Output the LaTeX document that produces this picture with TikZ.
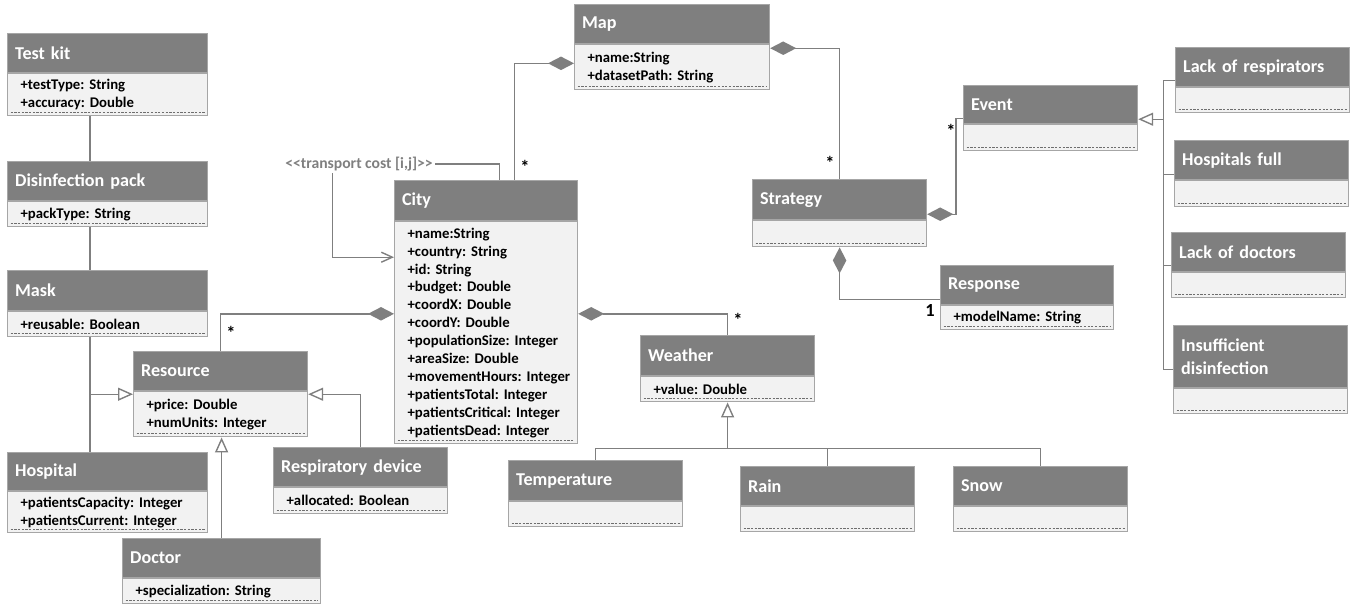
\documentclass[tikz,border=0pt]{standalone}
\usepackage{fontspec}
\setmainfont{Carlito}
\newfontfamily\plainfont{Carlito}
\frenchspacing
\usetikzlibrary{arrows.meta}
\definecolor{hdrcol}{RGB}{127,127,127}
\definecolor{bodycol}{RGB}{242,242,242}
\definecolor{boxcol}{RGB}{166,166,166}
\definecolor{lncol}{RGB}{127,127,127}
\definecolor{dashcol}{RGB}{110,110,110}
\begin{document}
\begin{tikzpicture}[x=0.02cm,y=-0.02cm,
  hdr/.style={draw=boxcol,line width=0.7pt,fill=hdrcol,text=white,anchor=north west,
    inner xsep=0.15cm,inner ysep=0pt,minimum height=0.78cm,align=left,text width=#1,
    font=\fontsize{10.3}{12.8}\selectfont\bfseries},
  hdr/.default=3.18cm,
  attr/.style={draw=boxcol,line width=0.7pt,fill=bodycol,anchor=north west,
    inner xsep=0.26cm,inner ysep=0.1cm,minimum height=0.5cm,align=left,text width=#1,
    font=\fontsize{8.4}{10.2}\selectfont\bfseries,
    path picture={\draw[dashcol,line width=0.5pt,dash pattern=on 1.3pt off 0.8pt]
      ([xshift=0.06cm,yshift=0.06cm]path picture bounding box.south west) --
      ([xshift=-0.06cm,yshift=0.06cm]path picture bounding box.south east);}},
  attr/.default=2.96cm,
  conn/.style={draw=lncol,line width=0.8pt},
  gen/.style={conn,-{Triangle[open,length=0.3cm,width=0.26cm]}},
  comp/.style={conn,{Diamond[length=0.52cm,width=0.27cm]}-},
  mult/.style={inner sep=1pt,font=\fontsize{10.5}{11}\selectfont\bfseries}]
\useasboundingbox (0,0) rectangle (1362,604);

% resources
\node (testkit) at (7,33) [hdr=3.7cm] {Test kit};
\node (testkit-attr) at (testkit.south west) [attr=3.48cm,minimum height=0.84cm] {+testType: String\\+accuracy: Double};
\node (disinf) at (7,161) [hdr=3.7cm] {Disinfection pack};
\node (disinf-attr) at (disinf.south west) [attr=3.48cm] {+packType: String};
\node (mask) at (7,270) [hdr=3.7cm,minimum height=0.8cm] {Mask};
\node (mask-attr) at (mask.south west) [attr=3.48cm] {+reusable: Boolean};
\node (hospital) at (7,452) [hdr=3.7cm,minimum height=0.76cm] {Hospital};
\node (hospital-attr) at (hospital.south west) [attr=3.48cm,minimum height=0.76cm] {+patientsCapacity: Integer\\+patientsCurrent: Integer};
\node (resource) at (133,351) [hdr] {Resource};
\node (resource-attr) at (resource.south west) [attr,minimum height=0.9cm] {+price: Double\\+numUnits: Integer};
\node (respdev) at (273,447) [hdr] {Respiratory device};
\node (respdev-attr) at (respdev.south west) [attr,minimum height=0.52cm] {+allocated: Boolean};
\node (doctor) at (122,538) [hdr=3.66cm] {Doctor};
\node (doctor-attr) at (doctor.south west) [attr=3.44cm] {+specialization: String};

% city, map, strategy
\node (city) at (394,180) [hdr=3.36cm,minimum height=0.8cm] {City};
\node (city-attr) at (city.south west) [attr=3.14cm,minimum height=4.44cm] {+name:String\\+country: String\\+id: String\\+budget: Double\\+coordX: Double\\+coordY: Double\\+populationSize: Integer\\+areaSize: Double\\\mbox{+movementHours: Integer}\\+patientsTotal: Integer\\+patientsCritical: Integer\\+patientsDead: Integer};
\node (map) at (574,4) [hdr=3.6cm] {Map};
\node (map-attr) at (map.south west) [attr=3.38cm,minimum height=0.9cm] {+name:String\\+datasetPath: String};
\node (strategy) at (752,179) [hdr,minimum height=0.8cm] {Strategy};
\node (strategy-attr) at (strategy.south west) [attr,minimum height=0.52cm] {};
\node (event) at (963,85) [hdr,minimum height=0.76cm] {Event};
\node (event-attr) at (event.south west) [attr,minimum height=0.52cm] {};
\node (response) at (940,265) [hdr=3.16cm] {Response};
\node (response-attr) at (response.south west) [attr=2.94cm,minimum height=0.48cm] {+modelName: String};

% weather
\node (weather) at (640,335) [hdr,minimum height=0.8cm] {Weather};
\node (weather-attr) at (weather.south west) [attr] {+value: Double};
\node (temp) at (508,460) [hdr,minimum height=0.8cm] {Temperature};
\node (temp-attr) at (temp.south west) [attr] {};
\node (rain) at (740,466) [hdr] {Rain};
\node (rain-attr) at (rain.south west) [attr] {};
\node (snow) at (953,466) [hdr] {Snow};
\node (snow-attr) at (snow.south west) [attr] {};

% events
\node (lackresp) at (1175,47) [hdr] {Lack of respirators};
\node (lackresp-attr) at (lackresp.south west) [attr] {};
\node (hospfull) at (1174,140) [hdr] {Hospitals full};
\node (hospfull-attr) at (hospfull.south west) [attr,minimum height=0.52cm] {};
\node (lackdoc) at (1171,232) [hdr] {Lack of doctors};
\node (lackdoc-attr) at (lackdoc.south west) [attr] {};
\node (insuff) at (1173,325) [hdr,minimum height=1.24cm] {Insufficient\\disinfection};
\node (insuff-attr) at (insuff.south west) [attr] {};

\node (tc) at (359,164) [inner sep=1pt,text=lncol,font=\plainfont\fontsize{8.9}{10.5}\selectfont\bfseries] {<<transport cost [i,j]>>};

% multiplicities
\node (m-city) at (525,167) [mult] {*};
\node (m-strategy) at (830,163) [mult] {*};
\node (m-event) at (951,131) [mult] {*};
\node (m-resource) at (231,333) [mult] {*};
\node (m-weather) at (738,320) [mult] {*};
\node (m-response) at (930,311) [mult] {1};

% resource tree
\coordinate (lx) at (90,0);
\coordinate (res-l) at ([yshift=-0.06cm]resource-attr.north west);
\coordinate (res-r) at ([yshift=-0.06cm]resource-attr.north east);
\draw[conn] (testkit-attr.south -| lx) -- (disinf.north -| lx);
\draw[conn] (disinf-attr.south -| lx) -- (mask.north -| lx);
\draw[conn] (mask-attr.south -| lx) -- (hospital.north -| lx);
\draw[gen] (res-l -| lx) -- (res-l);
\draw[gen] (respdev.north) |- (res-r);
\draw[gen] (doctor.north) -- (doctor.north |- resource-attr.south);

% compositions
\draw[comp] ([yshift=0.38cm]city-attr.west) -| (resource.north);
\draw[comp] ([yshift=0.38cm]city-attr.east) -| (weather.north);
\draw[comp] ([yshift=0.08cm]map-attr.west) -| ([xshift=0.57cm]city.north);
\draw[comp] ([yshift=-0.08cm]map-attr.north east) -| (strategy.north);
\draw[comp] ([yshift=0.12cm]strategy.south east) -- ++(0.58cm,0) |- ([yshift=0.12cm]event.south west);
\draw[comp] (strategy-attr.south) |- ([yshift=0.12cm]response.south west);

% transport cost
\draw[conn] ([xshift=0.27cm]city.north) |- (tc.east);
\draw[conn,-{Straight Barb[length=0.22cm,width=0.2cm]}] ([xshift=-0.53cm]tc.south) |- ([yshift=-0.72cm]city-attr.north west);

% event kinds
\coordinate (ev-j) at ([xshift=0.5cm,yshift=0.1cm]event.south east);
\draw[gen] (ev-j) -- ([yshift=0.1cm]event.south east);
\draw[conn] ([yshift=0.14cm]lackresp.south west) -| (ev-j);
\draw[conn] ([yshift=0.12cm]hospfull.south west) -| (ev-j);
\draw[conn] ([yshift=0.14cm]lackdoc.south west) -| (ev-j);
\draw[conn] ([yshift=0.38cm]insuff.south west) -| (ev-j);

% weather kinds
\coordinate (we-j) at ([yshift=-0.92cm]weather-attr.south);
\draw[gen] (we-j) -- (weather-attr.south);
\draw[conn] (temp.north) |- (we-j);
\draw[conn] (rain.north) |- (we-j);
\draw[conn] (snow.north) |- (we-j);

\end{tikzpicture}
\end{document}
